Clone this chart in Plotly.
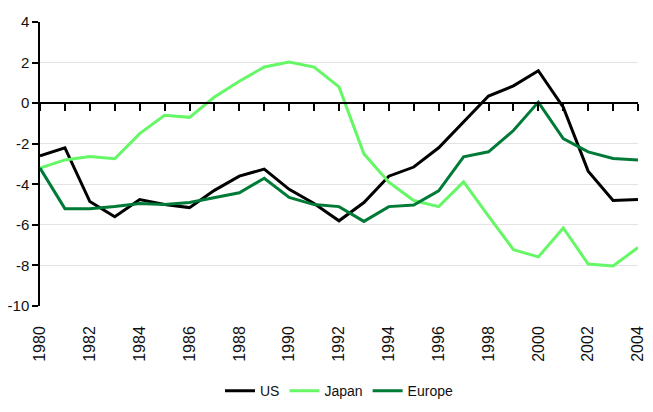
import plotly.graph_objects as go

years = list(range(1980, 2005))
us = [-2.6, -2.2, -4.85, -5.6, -4.75, -5.0, -5.15, -4.3, -3.6, -3.25, -4.25, -4.95, -5.8,
      -4.9, -3.6, -3.15, -2.2, -0.95, 0.35, 0.85, 1.6, -0.2, -3.35, -4.8, -4.75]
japan = [-3.2, -2.8, -2.63, -2.74, -1.5, -0.6, -0.7, 0.3, 1.08, 1.78, 2.03, 1.78, 0.8,
         -2.5, -3.9, -4.8, -5.1, -3.88, -5.57, -7.22, -7.58, -6.15, -7.93, -8.03, -7.12]
europe = [-3.2, -5.2, -5.2, -5.1, -4.95, -5.0, -4.9, -4.65, -4.42, -3.7, -4.65, -5.0, -5.1,
          -5.83, -5.1, -5.02, -4.32, -2.65, -2.4, -1.35, 0.05, -1.75, -2.4, -2.73, -2.8]

series_names = ["US", "Japan", "Europe"]
colors = ["#000000", "#66f766", "#007a37"]
y_ticks = [4, 2, 0, -2, -4, -6, -8, -10]
x_label_years = list(range(1980, 2005, 2))

font_fam = "Liberation Sans, Arial, sans-serif"

fig = go.Figure()
for name, vals, col in zip(series_names, [us, japan, europe], colors):
    fig.add_trace(go.Scatter(x=years, y=vals, mode="lines", name=name,
                             line=dict(color=col, width=3)))

# invisible helper trace so the bottom label axis is drawn
fig.add_trace(go.Scatter(x=[years[0], years[-1]], y=[0, 0], xaxis="x2", mode="lines",
                         line=dict(width=0, color="rgba(0,0,0,0)"),
                         showlegend=False, hoverinfo="skip"))

fig.update_layout(
    width=645, height=404,
    margin=dict(l=32, r=15, t=14, b=106, autoexpand=False),
    paper_bgcolor="white", plot_bgcolor="white",
    font=dict(family=font_fam, size=16, color="#111"),
    showlegend=True,
    legend=dict(orientation="h", x=0.5, xanchor="center", y=-0.30, yanchor="middle",
                font=dict(size=14), tracegroupgap=0),
    xaxis=dict(range=[1980, 2004], anchor="free", position=10/14,
               showline=True, linecolor="black", linewidth=1.5,
               ticks="outside", tickmode="linear", tick0=1980, dtick=1,
               ticklen=7, tickwidth=1.5, tickcolor="black",
               showticklabels=False, showgrid=False, zeroline=False, automargin=False),
    xaxis2=dict(range=[1980, 2004], overlaying="x", anchor="y", side="bottom",
                tickmode="array", tickvals=x_label_years,
                ticktext=[str(v) for v in x_label_years],
                tickangle=-90, ticks="", ticklabelstandoff=16,
                showline=False, showgrid=False, zeroline=False, automargin=False,
                tickfont=dict(size=16)),
    yaxis=dict(range=[-10, 4], tickmode="array", tickvals=y_ticks,
               ticktext=[str(v) for v in y_ticks],
               showline=True, linecolor="black", linewidth=1.5,
               ticks="outside", ticklen=6, tickwidth=1.5, tickcolor="black",
               showgrid=True, gridcolor="#e3e3e3", gridwidth=1,
               zeroline=False, automargin=False, tickfont=dict(size=15)),
)

fig.write_html("out.html")
